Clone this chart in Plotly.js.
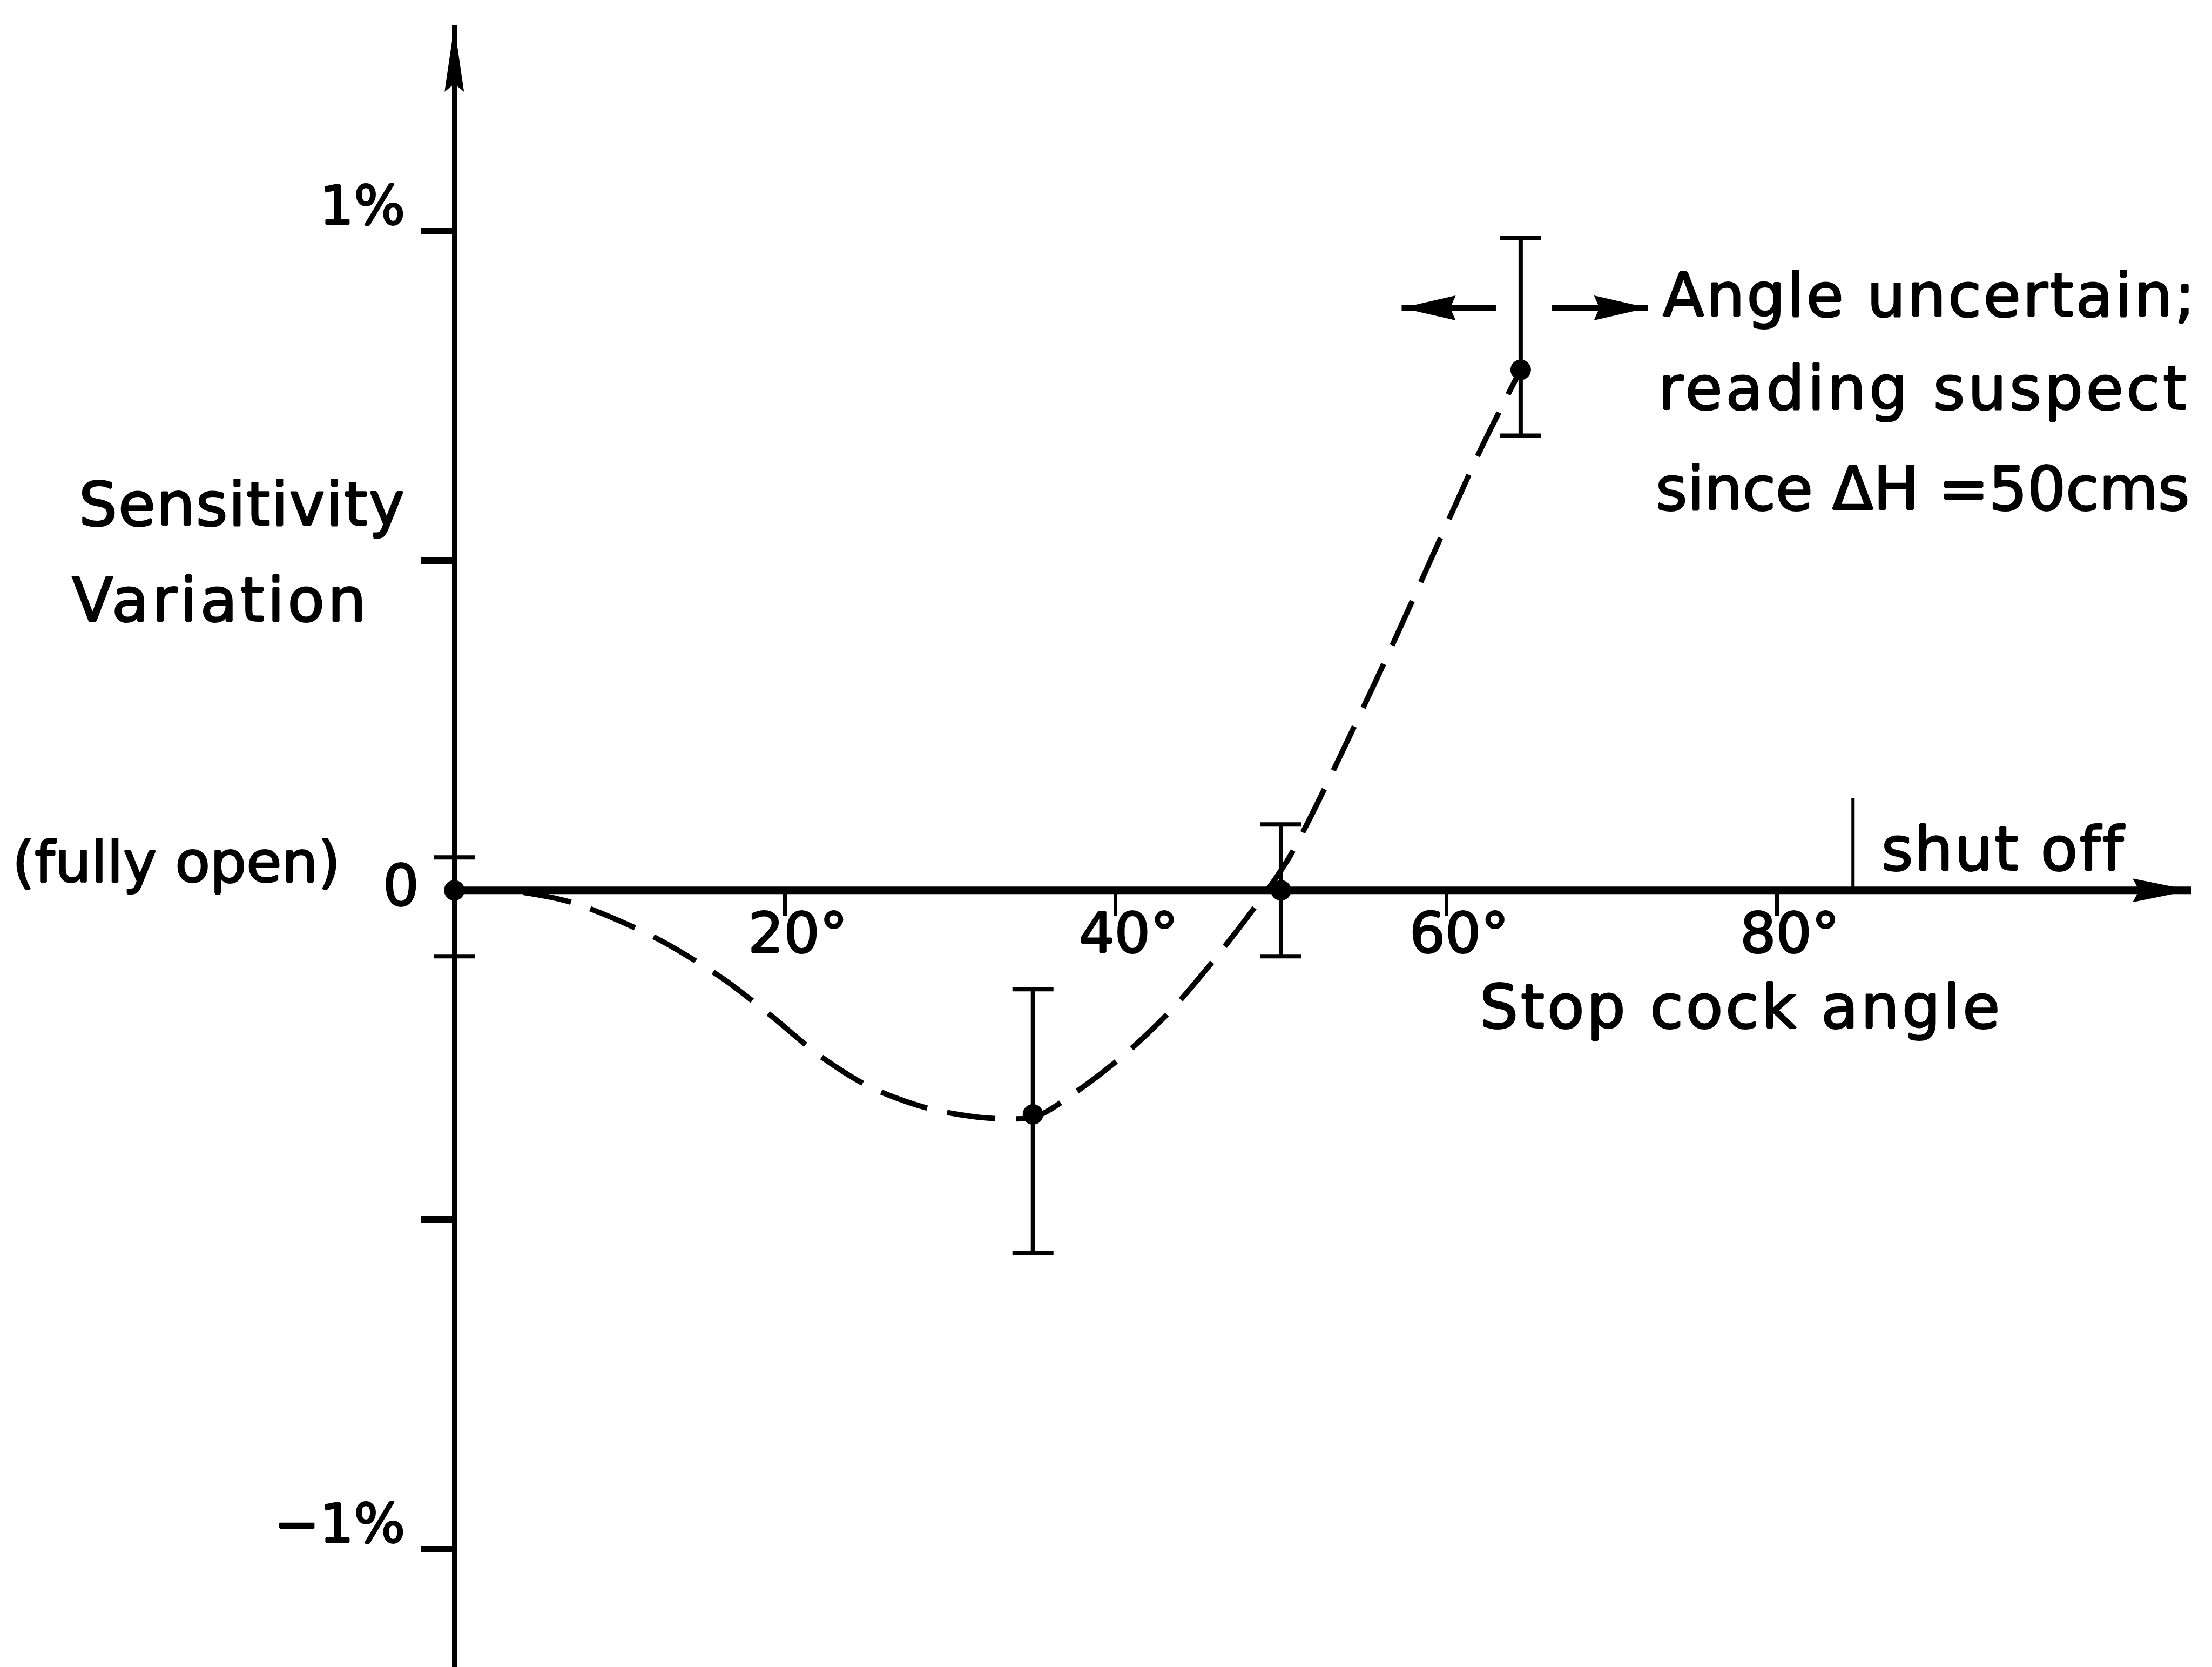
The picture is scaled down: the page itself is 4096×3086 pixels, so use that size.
<!DOCTYPE html>
<html>
<head>
<meta charset="utf-8">
<script src="https://cdn.plot.ly/plotly-3.0.1.min.js"></script>
<style>
  html, body { margin: 0; padding: 0; background: #fff; }
  #chart { width: 4096px; height: 3086px; }
</style>
</head>
<body>
<div id="chart"></div>
<script>
// Stop cock angle (degrees) of each reading
const angles = [0, 35, 50, 64.5];
// Sensitivity variation (%) of each reading
const sensitivity = [0, -0.34, 0, 0.79];
// Upper and lower uncertainty of each reading (%)
const errorUp = [0.05, 0.19, 0.1, 0.2];
const errorDown = [0.1, 0.21, 0.1, 0.1];

// Hand-faired trend curve through the readings
const curveAngles = [0, 3.2, 7.2, 12.1, 16.2, 19.2, 22.0, 25.1, 28.7, 32.5, 35.2,
  37.6, 40.6, 43.5, 46.0, 48.4, 50.5, 55.7, 60.3, 62.0, 63.7, 64.5];
const curveValues = [0, 0, -0.019, -0.071, -0.133, -0.191, -0.249, -0.298, -0.331, -0.346, -0.343,
  -0.306, -0.248, -0.178, -0.104, -0.026, 0.050, 0.316, 0.571, 0.665, 0.751, 0.790];

// Axis ticks
const xTickVals = [20, 40, 60, 80];
const xTickText = ['20°', '40°', '60°', '80°'];
const yTickVals = [-1, -0.5, 0.5, 1];
const yTickText = ['−1%', '', '', '1%'];

// Shut-off position of the stop cock (degrees) and height of its marker (%)
const shutOffAngle = 84.6;
const shutOffTop = 0.14;

// Uncertain angle of the last reading: arrow tails, arrow tips (degrees) and their level (%)
const spreadTails = [63.0, 66.4];
const spreadTips = [57.3, 72.2];
const spreadLevel = 0.884;

// ---- layout geometry ----
const W = 4096, H = 3086;
const margin = { l: 780, r: 39, t: 47, b: 0, pad: 0 };
const xRange = [-2, 105.04];
const yRange = [-1.1786, 1.3127];
const plotW = W - margin.l - margin.r;
const plotH = H - margin.t - margin.b;
const zeroX = (0 - xRange[0]) / (xRange[1] - xRange[0]);
const zeroY = (0 - yRange[0]) / (yRange[1] - yRange[0]);
const px = x => (x - margin.l) / plotW;
const py = y => 1 - (y - margin.t) / plotH;

const FONT = 'DejaVu Sans';
const INK = '#000';
// slightly heavier pen stroke for the lettering
const PEN = '1.5px 0 0 #000, -1.5px 0 0 #000, 0 1.5px 0 #000, 0 -1.5px 0 #000';

function label(text, x, y, size, spacing, xanchor) {
  return {
    xref: 'paper', yref: 'paper', x: px(x), y: py(y),
    xanchor: xanchor || 'left', yanchor: 'middle', showarrow: false,
    text: spacing ? '<span style="letter-spacing:' + spacing + 'px">' + text + '</span>' : text,
    font: { family: FONT, size: size, color: INK, shadow: PEN }
  };
}

function head(x, y, path) {
  return {
    type: 'path', xref: 'x', yref: 'y', xsizemode: 'pixel', ysizemode: 'pixel',
    xanchor: x, yanchor: y, path: path, fillcolor: INK, line: { width: 0 }, layer: 'above'
  };
}

const traces = [
  {
    x: curveAngles, y: curveValues, type: 'scatter', mode: 'lines',
    line: { color: INK, width: 10, dash: '90px,38px', shape: 'spline', smoothing: 0.8 },
    cliponaxis: false, hoverinfo: 'skip'
  },
  {
    x: angles, y: sensitivity, type: 'scatter', mode: 'markers',
    marker: { color: INK, size: 38 },
    error_y: { type: 'data', symmetric: false, array: errorUp, arrayminus: errorDown,
      color: INK, thickness: 8, width: 38 },
    cliponaxis: false
  }
];

const shapes = [
  // horizontal axis line, from the origin to the arrow tip
  { type: 'line', xref: 'x', yref: 'y', x0: 0, x1: xRange[1], y0: 0, y1: 0,
    line: { color: INK, width: 14 }, layer: 'below' },
  // shut-off marker
  { type: 'line', xref: 'x', yref: 'y', x0: shutOffAngle, x1: shutOffAngle, y0: 0, y1: shutOffTop,
    line: { color: INK, width: 6 } },
  // axis arrowheads
  head(0, yRange[1], 'M0,0L-18,-123L0,-108L18,-123Z'),
  head(xRange[1], 0, 'M0,0L-108,22L-96,0L-108,-22Z')
];
// arrows marking the uncertain angle
spreadTails.forEach((tail, i) => {
  const tip = spreadTips[i];
  shapes.push({ type: 'line', xref: 'x', yref: 'y', x0: tail, x1: tip, y0: spreadLevel, y1: spreadLevel,
    line: { color: INK, width: 10 } });
  const dir = tip < tail ? 1 : -1;
  shapes.push(head(tip, spreadLevel,
    'M0,0L' + (100 * dir) + ',23L' + (90 * dir) + ',0L' + (100 * dir) + ',-23Z'));
});

const annotations = [
  label('Sensitivity', 144, 933, 112, 2),
  label('Variation', 131, 1110, 112, 6),
  label('(fully open)', 21, 1596, 106, 0),
  label('0', 742, 1640, 105, 0, 'center'),
  label('Angle uncertain;', 3077, 546, 112, 4),
  label('reading suspect', 3069, 718, 112, 6),
  label('since ΔH =50cms', 3064, 904, 112, 0),
  label('shut off', 3482, 1571, 112, 3),
  label('Stop cock angle', 2738, 1863, 112, 5)
];

const layout = {
  width: W, height: H, margin: margin,
  paper_bgcolor: '#fff', plot_bgcolor: '#fff',
  showlegend: false, hovermode: false,
  font: { family: FONT, color: INK, size: 100 },
  xaxis: {
    range: xRange, anchor: 'free', position: zeroY,
    showline: false, showgrid: false, zeroline: false,
    ticks: 'outside', ticklen: 46, tickwidth: 7, tickcolor: INK,
    tickmode: 'array', tickvals: xTickVals, ticktext: xTickText,
    tickfont: { family: FONT, size: 104, color: INK, shadow: PEN },
    ticklabelshift: 24, ticklabelstandoff: -57
  },
  yaxis: {
    range: yRange, anchor: 'free', position: zeroX,
    showline: true, linecolor: INK, linewidth: 9,
    showgrid: false, zeroline: false,
    ticks: 'outside', ticklen: 57, tickwidth: 12, tickcolor: INK,
    tickmode: 'array', tickvals: yTickVals, ticktext: yTickText,
    tickfont: { family: FONT, size: 100, color: INK, shadow: PEN },
    ticklabelshift: -48, ticklabelstandoff: 10
  },
  shapes: shapes,
  annotations: annotations
};

Plotly.newPlot('chart', traces, layout, { staticPlot: true, displayModeBar: false });
</script>
</body>
</html>
